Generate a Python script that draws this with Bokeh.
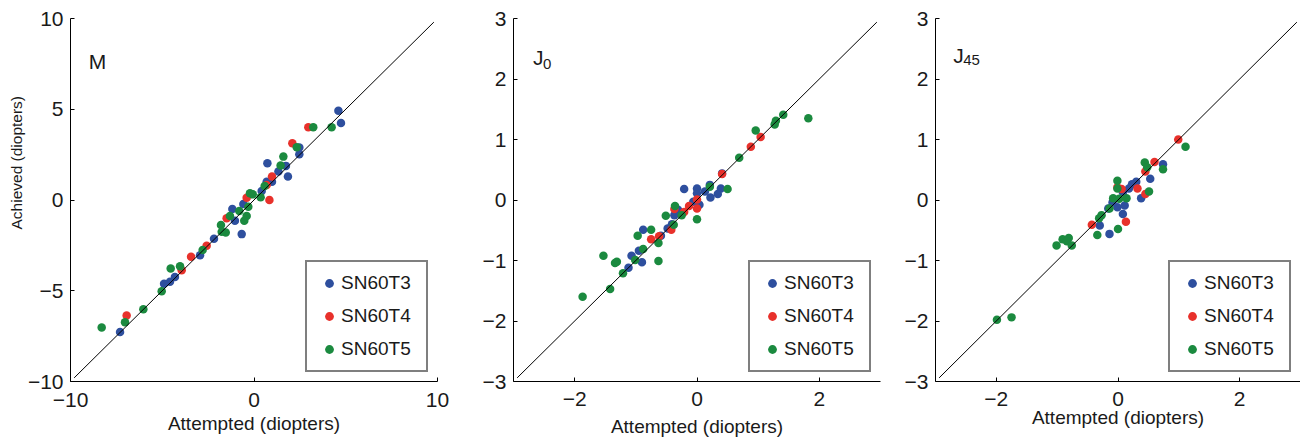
import math
from bokeh.plotting import figure
from bokeh.layouts import row
from bokeh.models import Range1d, FixedTicker, Legend, LegendItem, Label, Title
from bokeh.embed import file_html
from bokeh.resources import INLINE

series_names = ["SN60T3", "SN60T4", "SN60T5"]
colors = ["#2E4F9E", "#E8312B", "#1B8A3F"]

# ---- Panel M (spherical equivalent) ----
m_t3_x = [4.60, 4.74, 2.47, 2.47, 0.73, 1.85, 1.74, 1.33, 0.98, 0.69, 0.42, -0.58, -1.18, -1.04, -0.67, -2.18, -2.94, -4.31, -4.58, -4.90, -7.30]
m_t3_y = [4.92, 4.24, 2.89, 2.52, 2.03, 1.29, 1.88, 1.57, 1.01, 1.01, 0.50, -0.22, -0.50, -1.14, -1.88, -2.14, -3.04, -4.24, -4.51, -4.62, -7.27]
m_t4_x = [2.96, 2.09, 0.98, 0.84, 0.69, -0.40, -1.49, -2.58, -3.43, -3.94, -6.94]
m_t4_y = [4.01, 3.13, 1.29, 0.00, 0.83, 0.13, -1.01, -2.52, -3.13, -3.87, -6.37]
m_t5_x = [3.23, 4.23, 2.33, 1.60, 1.45, 0.58, 0.36, -0.07, -0.22, -0.31, -0.40, -0.53, -0.80, -1.31, -1.80, -1.54, -1.76, -2.80, -4.03, -4.54, -5.03, -6.03, -7.03, -8.30]
m_t5_y = [4.01, 4.01, 2.91, 2.39, 1.90, 0.77, 0.15, 0.31, 0.37, -0.37, -0.88, -1.14, -0.61, -0.88, -1.38, -1.79, -1.75, -2.76, -3.65, -3.78, -5.03, -6.02, -6.74, -7.02]

# ---- Panel J0 ----
j0_t3_x = [0.41, 0.39, 0.34, 0.22, 0.21, 0.13, 0.00, 0.00, -0.21, 0.04, -0.06, -0.31, -0.37, -0.41, -0.48, -0.59, -0.88, -0.95, -0.90, -1.07, -1.12]
j0_t3_y = [0.44, 0.19, 0.10, 0.04, 0.25, 0.14, 0.19, 0.11, 0.18, -0.08, -0.03, -0.16, -0.25, -0.40, -0.47, -0.59, -0.49, -0.84, -1.03, -0.92, -1.12]
j0_t4_x = [1.04, 0.88, 0.41, 0.00, 0.00, -0.13, -0.21, -0.37, -0.42, -0.62, -0.75]
j0_t4_y = [1.04, 0.88, 0.43, 0.01, -0.14, -0.10, -0.20, -0.15, -0.49, -0.60, -0.65]
j0_t5_x = [1.82, 1.41, 1.29, 1.27, 0.96, 0.69, 0.50, 0.21, 0.00, -0.25, -0.36, -0.51, -0.38, -0.75, -0.63, -0.63, -0.97, -0.88, -1.01, -1.31, -1.34, -1.53, -1.21, -1.42, -1.87]
j0_t5_y = [1.35, 1.41, 1.31, 1.25, 1.15, 0.70, 0.18, 0.22, -0.32, -0.25, -0.10, -0.26, -0.41, -0.49, -0.71, -1.01, -0.59, -0.81, -0.99, -1.02, -1.04, -0.92, -1.21, -1.47, -1.60]

# ---- Panel J45 ----
j45_t3_x = [0.74, 0.53, 0.38, 0.30, 0.23, 0.18, 0.08, -0.01, 0.11, 0.08, -0.16, -0.09, -0.30, -0.14]
j45_t3_y = [0.59, 0.35, 0.03, 0.30, 0.26, 0.19, 0.13, -0.12, -0.09, -0.23, -0.14, -0.04, -0.42, -0.56]
j45_t4_x = [0.99, 0.60, 0.45, 0.45, 0.32, 0.06, -0.01, 0.13, -0.43]
j45_t4_y = [1.00, 0.63, 0.47, 0.10, 0.19, 0.18, 0.21, -0.36, -0.41]
j45_t5_x = [-1.99, -1.75, -1.01, -0.91, -0.81, -0.84, -0.76, -0.34, -0.31, -0.27, -0.14, -0.08, 0.00, -0.01, -0.01, 0.02, 0.14, 0.44, 0.48, 0.51, 0.74, 1.11]
j45_t5_y = [-1.98, -1.94, -0.75, -0.65, -0.63, -0.68, -0.75, -0.58, -0.30, -0.25, -0.14, 0.03, -0.48, 0.32, 0.19, 0.02, 0.03, 0.62, 0.54, 0.14, 0.51, 0.88]

# axis settings
m_range = [-10, 10]
m_xticks = [-10, 0, 10]
m_yticks = [-10, -5, 0, 5, 10]
m_line = [-9.8, 9.8]
j_range = [-3, 3]
j_xticks = [-2, 0, 2]
j_yticks = [-3, -2, -1, 0, 1, 2, 3]
j_line = [-2.94, 2.94]

x_label = "Attempted (diopters)"
y_label = "Achieved (diopters)"

FONT = "Liberation Sans"
TXT = "#1a1a1a"


def fmt(v):
    return ("\u2212" + str(abs(v))) if v < 0 else str(v)


def make_panel(xs, ys, rng, xticks, yticks, line_ext, bl, br, fw,
               tick_standoff, xlab_standoff):
    FH = 363
    BT = 18
    BB = 61
    p = figure(width=bl + fw + br, height=BT + FH + BB,
               x_range=Range1d(*rng), y_range=Range1d(*rng),
               output_backend="svg", toolbar_location=None,
               min_border_left=bl, min_border_right=br,
               min_border_top=BT, min_border_bottom=BB)
    p.outline_line_color = None
    p.grid.visible = False
    p.background_fill_color = "white"
    p.border_fill_color = "white"

    items = []
    for i in range(3):
        r = p.scatter(xs[i], ys[i], size=8.5, color=colors[i], line_color=None)
        items.append(LegendItem(label=series_names[i], renderers=[r]))
    p.line(line_ext, line_ext, line_color="black", line_width=1)

    for ax, ticks in ((p.xaxis[0], xticks), (p.yaxis[0], yticks)):
        ax.ticker = FixedTicker(ticks=ticks)
        ax.minor_tick_line_color = None
        ax.major_tick_in = 4
        ax.major_tick_out = 0
        ax.axis_line_color = "black"
        ax.major_tick_line_color = "black"
        ax.major_label_text_font = FONT
        ax.major_label_text_font_size = "21px"
        ax.major_label_text_color = TXT
        ax.major_label_overrides = {t: fmt(t) for t in ticks}
    p.yaxis[0].major_label_standoff = 7
    p.xaxis[0].major_label_standoff = tick_standoff
    p.xaxis[0].axis_label = x_label
    p.xaxis[0].axis_label_standoff = xlab_standoff
    p.xaxis[0].axis_label_text_font = FONT
    p.xaxis[0].axis_label_text_font_size = "19px"
    p.xaxis[0].axis_label_text_font_style = "normal"
    p.xaxis[0].axis_label_text_color = TXT

    legend = Legend(items=items, location="bottom_right", margin=9, padding=10,
                    spacing=11, label_height=22, glyph_height=22, glyph_width=24,
                    label_standoff=0, label_width=75,
                    border_line_color="black", border_line_width=2,
                    background_fill_color="white", background_fill_alpha=1,
                    label_text_font=FONT, label_text_font_size="19px",
                    label_text_color=TXT)
    p.add_layout(legend)
    return p


p1 = make_panel([m_t3_x, m_t4_x, m_t5_x], [m_t3_y, m_t4_y, m_t5_y],
                m_range, m_xticks, m_yticks, m_line, 70, 14, 367, 11, 3)
p2 = make_panel([j0_t3_x, j0_t4_x, j0_t5_x], [j0_t3_y, j0_t4_y, j0_t5_y],
                j_range, j_xticks, j_yticks, j_line, 62, 5, 367, 10, 7)
p3 = make_panel([j45_t3_x, j45_t4_x, j45_t5_x], [j45_t3_y, j45_t4_y, j45_t5_y],
                j_range, j_xticks, j_yticks, j_line, 50, 0, 365, 10, -2)

# panel titles
p1.add_layout(Label(x=-9.0, y=7.63, text="M", text_font=FONT, text_font_size="21px",
                    text_color=TXT, text_baseline="middle"))
p2.add_layout(Label(x=-2.68, y=2.36, text="J", text_font=FONT, text_font_size="21px",
                    text_color=TXT, text_baseline="middle"))
p2.add_layout(Label(x=-2.68, y=2.36, x_offset=10, y_offset=-7, text="0", text_font=FONT,
                    text_font_size="15px", text_color=TXT, text_baseline="middle"))
p3.add_layout(Label(x=-2.71, y=2.39, text="J", text_font=FONT, text_font_size="21px",
                    text_color=TXT, text_baseline="middle"))
p3.add_layout(Label(x=-2.71, y=2.39, x_offset=10, y_offset=-5, text="45", text_font=FONT,
                    text_font_size="15px", text_color=TXT, text_baseline="middle"))

# y axis label of first panel, as a side title in the left border
p1.add_layout(Title(text=y_label, align="left", offset=152, standoff=0,
                    text_font=FONT, text_font_size="15.5px",
                    text_font_style="normal", text_color=TXT), "left")

layout = row(p1, p2, p3)
open("out.html", "w").write(file_html(layout, INLINE))
